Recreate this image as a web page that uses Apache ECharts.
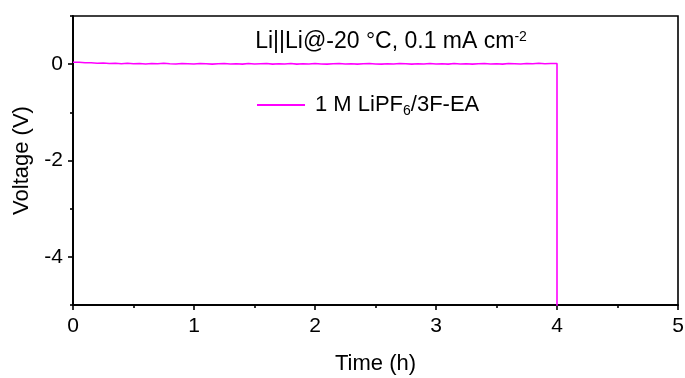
<!DOCTYPE html>
<html><head><meta charset="utf-8">
<script src="https://cdn.jsdelivr.net/npm/echarts@6/dist/echarts.min.js"></script>
<style>html,body{margin:0;padding:0;background:#fff}#c{width:685px;height:378px}</style>
</head><body><div id="c"></div>
<script>
// Data
const timeH = [0, 0.05, 0.1, 0.15, 0.2, 0.25, 0.3, 0.35, 0.4, 0.45, 0.5, 0.55, 0.6, 0.65, 0.7, 0.75, 0.8, 0.85, 0.9, 0.95,
  1.0, 1.05, 1.1, 1.15, 1.2, 1.25, 1.3, 1.35, 1.4, 1.45, 1.5, 1.55, 1.6, 1.65, 1.7, 1.75, 1.8, 1.85, 1.9, 1.95,
  2.0, 2.05, 2.1, 2.15, 2.2, 2.25, 2.3, 2.35, 2.4, 2.45, 2.5, 2.55, 2.6, 2.65, 2.7, 2.75, 2.8, 2.85, 2.9, 2.95,
  3.0, 3.05, 3.1, 3.15, 3.2, 3.25, 3.3, 3.35, 3.4, 3.45, 3.5, 3.55, 3.6, 3.65, 3.7, 3.75, 3.8, 3.85, 3.9, 3.95, 4.0, 4.0];
const voltage = [0.04, 0.04, 0.03, 0.03, 0.02, 0.025, 0.015, 0.02, 0.01, 0.02, 0.01, 0.015, 0.005, 0.015, 0.01, 0.02, 0.01, 0.005, 0.015, 0.01,
  0.005, 0.015, 0.01, 0.0, 0.01, 0.015, 0.005, 0.01, 0.0, 0.015, 0.005, 0.01, 0.015, 0.0, 0.01, 0.005, 0.015, 0.0, 0.01, 0.005,
  0.015, 0.005, 0.0, 0.01, 0.015, 0.005, 0.01, 0.0, 0.01, 0.015, 0.005, 0.0, 0.01, 0.005, 0.015, 0.01, 0.0, 0.01, 0.005, 0.015,
  0.005, 0.01, 0.0, 0.015, 0.005, 0.01, 0.0, 0.01, 0.015, 0.005, 0.01, 0.0, 0.015, 0.01, 0.005, 0.015, 0.01, 0.02, 0.01, 0.015, 0.015, -5.5];
const xTicks = [0, 1, 2, 3, 4, 5];
const xMinorTicks = [0.5, 1.5, 2.5, 3.5, 4.5];
const yTicks = [-4, -2, 0];
const yMinorTicks = [-5, -3, -1, 1];
const seriesName = '1 M LiPF6/3F-EA';

const FONT = 'Liberation Sans, Arial, sans-serif';
const chart = echarts.init(document.getElementById('c'));
const points = timeH.map((t, i) => [t, voltage[i]]);

const baseX = {
  type: 'value', min: 0, max: 5, interval: 0.5,
  axisLine: { show: true, onZero: false, lineStyle: { color: '#000', width: 1.6 } },
  splitLine: { show: false }
};
const baseY = {
  type: 'value', min: -5, max: 1, interval: 1,
  axisLine: { show: true, onZero: false, lineStyle: { color: '#000', width: 1.6 } },
  splitLine: { show: false }
};

chart.setOption({
  animation: false,
  backgroundColor: '#fff',
  grid: { left: 73, right: 7, top: 16, bottom: 73, show: true, borderColor: '#000', borderWidth: 1.6, containLabel: false, outerBoundsMode: 'none' },
  title: {
    text: 'Li||Li@-20 °C, 0.1 mA cm{sup|-2}',
    left: 386, top: 25, textAlign: 'center',
    textStyle: {
      fontFamily: FONT, fontSize: 23, fontWeight: 'normal', color: '#000',
      rich: { sup: { fontFamily: FONT, fontSize: 14, color: '#000', verticalAlign: 'top', padding: [0, 0, 10, 0] } }
    }
  },
  legend: {
    left: 257, top: 94, padding: 0, itemWidth: 48, itemHeight: 10, itemGap: 0,
    icon: 'path://M0,0 L48,0 L48,2 L0,2 Z',
    data: [{ name: seriesName, itemStyle: { color: '#ff00ff' } }],
    formatter: () => '1 M LiPF{sub|6}/3F-EA',
    textStyle: {
      fontFamily: FONT, fontSize: 22, color: '#000', padding: [0, 0, 0, 5],
      rich: { sub: { fontFamily: FONT, fontSize: 14, color: '#000', verticalAlign: 'bottom', padding: [13, 0, 0, 0] } }
    }
  },
  xAxis: [
    Object.assign({}, baseX, {
      name: 'Time (h)', nameLocation: 'middle', nameGap: 48,
      nameTextStyle: { fontFamily: FONT, fontSize: 22, color: '#000' },
      axisTick: { show: true, customValues: xTicks, length: 5, lineStyle: { color: '#000', width: 1.6 } },
      axisLabel: { show: true, customValues: xTicks, margin: 11, fontFamily: FONT, fontSize: 21, color: '#000' }
    }),
    Object.assign({}, baseX, {
      position: 'bottom',
      axisTick: { show: true, customValues: xMinorTicks, length: 3, lineStyle: { color: '#000', width: 1.6 } },
      axisLabel: { show: false }
    })
  ],
  yAxis: [
    Object.assign({}, baseY, {
      name: 'Voltage (V)', nameLocation: 'middle', nameGap: 37,
      nameTextStyle: { fontFamily: FONT, fontSize: 22, color: '#000' },
      axisTick: { show: true, customValues: yTicks, length: 5, lineStyle: { color: '#000', width: 1.6 } },
      axisLabel: { show: true, customValues: yTicks, margin: 10, fontFamily: FONT, fontSize: 21, color: '#000' }
    }),
    Object.assign({}, baseY, {
      position: 'left',
      axisTick: { show: true, customValues: yMinorTicks, length: 3, lineStyle: { color: '#000', width: 1.6 } },
      axisLabel: { show: false }
    })
  ],
  series: [{
    name: seriesName, type: 'line', data: points, showSymbol: false, clip: true,
    xAxisIndex: 0, yAxisIndex: 0,
    lineStyle: { color: '#ff00ff', width: 1.6 }, itemStyle: { color: '#ff00ff' }
  }]
});
</script></body></html>
